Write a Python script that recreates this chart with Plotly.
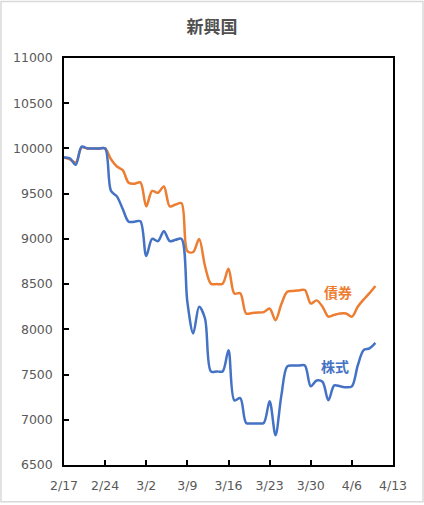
import pandas as pd
import plotly.graph_objects as go

# daily values 2020-02-17 .. 2020-04-10 (weekends carry the Friday value)
dates = pd.date_range("2020-02-17", "2020-04-10", freq="D")

stocks = [9900, 9890, 9820, 10020, 10000, 10000, 10000,
          10000, 9530, 9470, 9330, 9190, 9190, 9195,
          8810, 9000, 8975, 9085, 8975, 8990, 9000,
          8300, 7955, 8250, 8120, 7535, 7535, 7535,
          7770, 7215, 7240, 6965, 6960, 6960, 6965,
          7205, 6830, 7270, 7590, 7600, 7600, 7600,
          7370, 7435, 7420, 7215, 7380, 7370, 7360,
          7370, 7600, 7770, 7790, 7850]

bonds = [9900, 9880, 9845, 10010, 10000, 10000, 10000,
         10000, 9880, 9800, 9760, 9620, 9610, 9625,
         9360, 9530, 9510, 9580, 9360, 9380, 9395,
         8865, 8855, 9000, 8700, 8505, 8500, 8505,
         8670, 8395, 8400, 8175, 8180, 8185, 8190,
         8230, 8100, 8280, 8415, 8425, 8430, 8435,
         8285, 8320, 8250, 8140, 8160, 8175, 8175,
         8140, 8250, 8330, 8400, 8480]

tick_dates = pd.date_range("2020-02-17", "2020-04-13", freq="7D")
tick_labels = ["2/17", "2/24", "3/2", "3/9", "3/16", "3/23", "3/30", "4/6", "4/13"]
y_ticks = list(range(6500, 11001, 500))

BLUE = "#4472C4"
ORANGE = "#ED7D31"
CJK = "Noto Sans CJK JP"
TICKFONT = dict(family="DejaVu Sans", size=12.5, color="#595959")

fig = go.Figure()
fig.add_trace(go.Scatter(x=dates, y=bonds, name="債券", mode="lines",
                         line=dict(color=ORANGE, width=2.5, shape="spline", smoothing=0.9)))
fig.add_trace(go.Scatter(x=dates, y=stocks, name="株式", mode="lines",
                         line=dict(color=BLUE, width=2.5, shape="spline", smoothing=0.9)))

fig.add_annotation(x="2020-04-03 17:00", y=8415, text="<b>債券</b>", showarrow=False,
                   font=dict(family=CJK, size=14, color=ORANGE))
fig.add_annotation(x="2020-04-03 05:00", y=7600, text="<b>株式</b>", showarrow=False,
                   font=dict(family=CJK, size=14, color=BLUE))

# light chart border
fig.add_shape(type="rect", xref="paper", yref="paper",
              x0=-0.1915, x1=1.0912, y0=-0.0905, y1=1.139,
              line=dict(color="#D9D9D9", width=1.5))

fig.update_layout(
    width=424, height=505,
    margin=dict(l=64, r=31, t=58, b=38),
    paper_bgcolor="white", plot_bgcolor="white",
    showlegend=False,
    title=dict(text="<b>新興国</b>", x=0.5, xanchor="center", y=0.947, yanchor="middle",
               font=dict(family=CJK, size=17, color="#505050")),
    xaxis=dict(range=["2020-02-17", "2020-04-13"], tickvals=tick_dates, ticktext=tick_labels,
               showgrid=False, zeroline=False, showline=True, linecolor="black", linewidth=1.5,
               mirror=True, ticks="inside", ticklen=5, tickcolor="black", tickwidth=1.5,
               ticklabelstandoff=8, tickfont=TICKFONT),
    yaxis=dict(range=[6500, 11000], tickvals=y_ticks, tickformat="d", showgrid=False,
               zeroline=False, showline=True, linecolor="black", linewidth=1.5, mirror=True,
               ticks="inside", ticklen=5, tickcolor="black", tickwidth=1.5,
               ticklabelstandoff=7, tickfont=TICKFONT),
)

fig.write_html("out.html", config={"displayModeBar": False},
               post_script="document.body.style.margin='0';")
